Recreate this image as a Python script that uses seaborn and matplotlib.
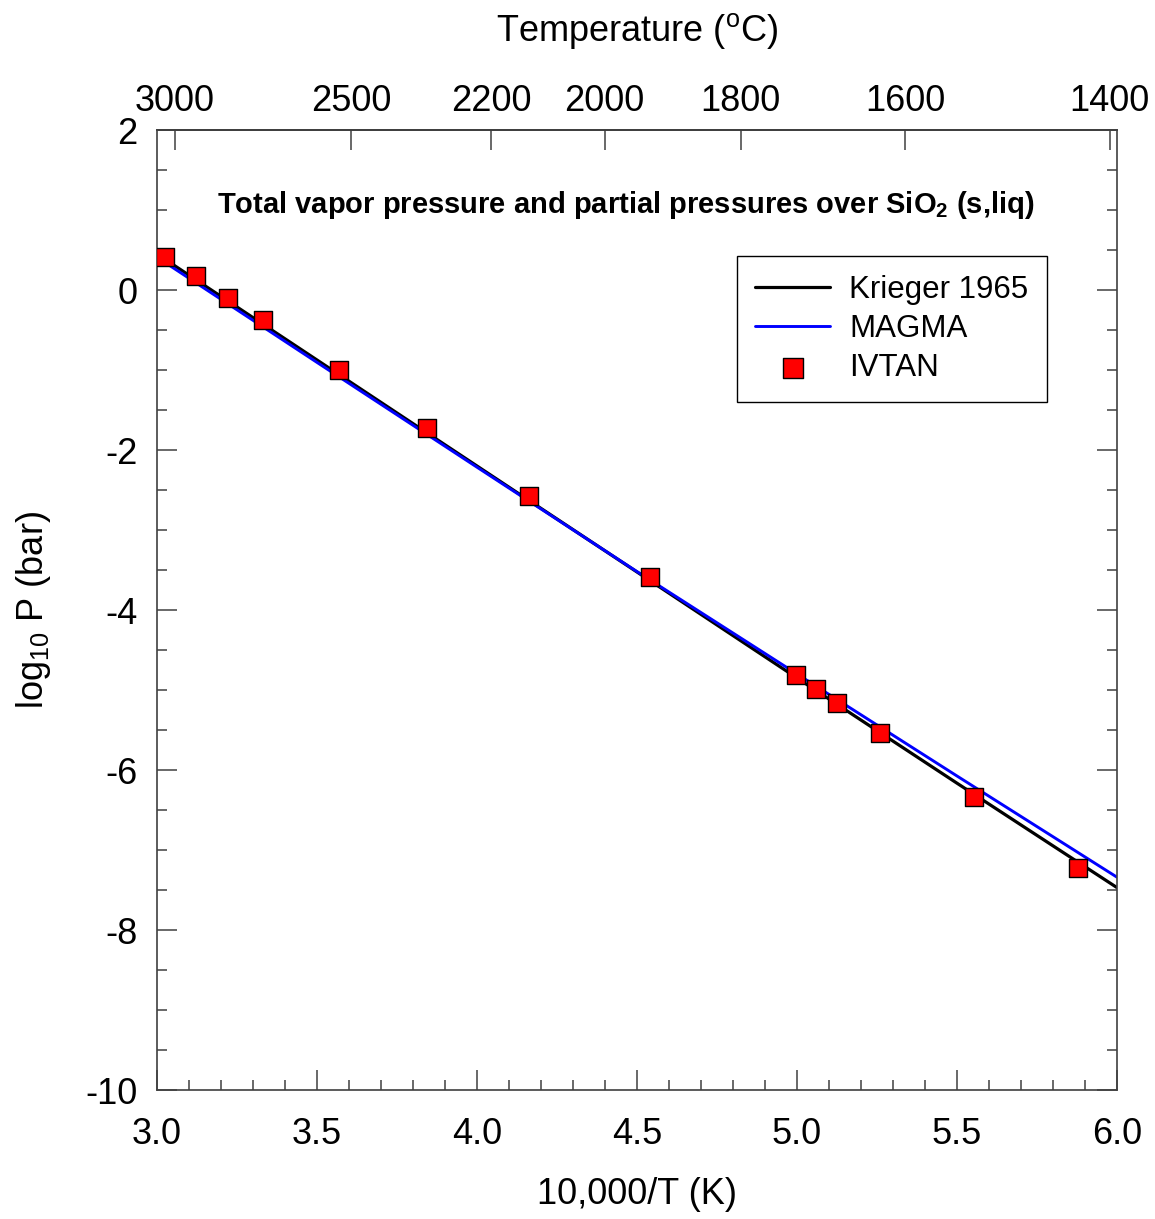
import numpy as np
import pandas as pd
import seaborn as sns
import matplotlib
matplotlib.use("Agg")
import matplotlib.pyplot as plt
from matplotlib.ticker import MultipleLocator, NullLocator

#%% values
krieger_x = [3.0, 3.5, 4.0, 4.5, 5.0, 5.5, 6.0]
krieger_logp = [0.45, -0.875, -2.20, -3.525, -4.85, -6.165, -7.47]

magma_x = [3.0, 3.5, 4.0, 4.5, 5.0, 5.5, 6.0]
magma_logp = [0.41, -0.905, -2.215, -3.52, -4.80, -6.075, -7.34]

ivtan_x = [3.025, 3.122, 3.222, 3.330, 3.569, 3.843, 4.163,
           4.541, 4.996, 5.059, 5.125, 5.259, 5.552, 5.877]
ivtan_logp = [0.416, 0.175, -0.096, -0.375, -1.0, -1.721, -2.579,
              -3.592, -4.817, -4.99, -5.166, -5.54, -6.34, -7.23]

temp_ticks_c = [3000, 2500, 2200, 2000, 1800, 1600, 1400]

#%% style
sns.set_theme(style="ticks")
plt.rcParams["font.family"] = ["Liberation Sans", "DejaVu Sans"]
plt.rcParams["mathtext.fontset"] = "custom"
plt.rcParams["mathtext.rm"] = "Liberation Sans"
plt.rcParams["mathtext.it"] = "Liberation Sans:italic"
plt.rcParams["mathtext.bf"] = "Liberation Sans:bold"
plt.rcParams["axes.unicode_minus"] = False
plt.rcParams["text.color"] = "black"
plt.rcParams["axes.labelcolor"] = "black"
plt.rcParams["xtick.labelcolor"] = "black"
plt.rcParams["ytick.labelcolor"] = "black"

spine_col = "#404040"

fig = plt.figure(figsize=(11.55, 12.19), dpi=100)
ax = fig.add_axes([157/1155, 1 - 1090/1219, 960/1155, 960/1219])

krieger = pd.DataFrame({"x": krieger_x, "logp": krieger_logp})
magma = pd.DataFrame({"x": magma_x, "logp": magma_logp})
ivtan = pd.DataFrame({"x": ivtan_x, "logp": ivtan_logp})

sns.lineplot(data=krieger, x="x", y="logp", color="black", linewidth=2.3,
             label="Krieger 1965", ax=ax)
sns.lineplot(data=magma, x="x", y="logp", color="#0000ff", linewidth=2.1,
             label="MAGMA", ax=ax)
sns.scatterplot(data=ivtan, x="x", y="logp", marker="s", s=12.3**2,
                color="#ff0000", edgecolor="black", linewidth=1.0,
                label="IVTAN", zorder=5, ax=ax)

ax.set_xlim(3.0, 6.0)
ax.set_ylim(-10, 2)
ax.xaxis.set_major_locator(MultipleLocator(0.5))
ax.xaxis.set_minor_locator(MultipleLocator(0.1))
ax.yaxis.set_major_locator(MultipleLocator(2))
ax.yaxis.set_minor_locator(MultipleLocator(0.5))
ax.xaxis.set_major_formatter(matplotlib.ticker.FormatStrFormatter("%.1f"))

ax.tick_params(which="both", direction="in", top=False, right=True,
               color=spine_col, labelcolor="black", width=1.1, labelsize=26)
ax.tick_params(which="major", length=14.4)
ax.tick_params(which="minor", length=7.2)
ax.tick_params(axis="x", pad=19.5)
ax.tick_params(axis="y", pad=14)
for sp in ax.spines.values():
    sp.set_color(spine_col)
    sp.set_linewidth(1.2)

ax.set_xlabel("10,000/T (K)", fontsize=26)
ax.set_ylabel("log$_{10}$ P (bar)", fontsize=26)
ax.xaxis.set_label_coords(0.5, -0.0905)
ax.yaxis.set_label_coords(-0.108, 0.5)

# top axis in degrees C
def to_celsius(x):
    x = np.asarray(x, float)
    with np.errstate(divide="ignore"):
        return 10000.0 / x - 273.15

def to_inv(t):
    t = np.asarray(t, float)
    with np.errstate(divide="ignore"):
        return 10000.0 / (t + 273.15)

top = ax.secondary_xaxis("top", functions=(to_celsius, to_inv))
top.set_xticks(temp_ticks_c)
top.set_xticklabels([str(t) for t in temp_ticks_c])
top.xaxis.set_minor_locator(NullLocator())
top.tick_params(direction="in", length=14.4, width=1.1, color=spine_col,
                labelcolor="black", labelsize=26, pad=8)
top.spines["top"].set_color("#202020")
top.spines["top"].set_linewidth(1.2)
top.set_xlabel("Temperature ($^{\\mathrm{o}}$C)", fontsize=26, labelpad=31)

ax.text(0.4885, 0.922,
        "Total vapor pressure and partial pressures over SiO$_\\mathbf{2}$ (s,liq)",
        transform=ax.transAxes, ha="center", va="center",
        fontsize=21, fontweight="bold")

leg = ax.legend(loc="upper right", bbox_to_anchor=(0.927, 0.869),
                fontsize=22.5, frameon=True, fancybox=False, framealpha=1,
                edgecolor="black", handlelength=2.4, handletextpad=0.6,
                borderpad=0.6, labelspacing=0.3, borderaxespad=0,
                markerscale=1.2)
leg.get_frame().set_linewidth(1.0)

fig.savefig("out.png", dpi=100)
